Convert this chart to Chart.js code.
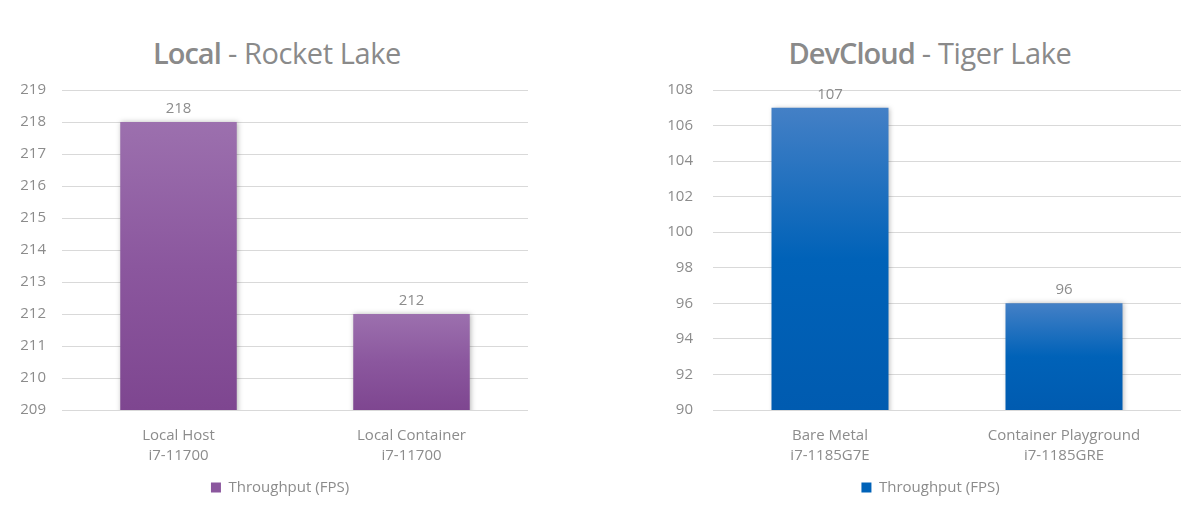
<!DOCTYPE html>
<html>
<head>
<meta charset="utf-8">
<script src="https://cdn.jsdelivr.net/npm/chart.js@4.4.0/dist/chart.umd.min.js"></script>
<style>
  html,body{margin:0;padding:0;background:#fff;}
  body{width:1188px;height:525px;position:relative;overflow:hidden;font-family:"Open Sans",sans-serif;}
  .wrap{position:absolute;top:0;height:525px;}
  .title{position:absolute;top:33px;font-size:29px;color:#8a8a8a;white-space:nowrap;transform:translateX(-50%);letter-spacing:-0.4px;}
  .title b{font-weight:600;letter-spacing:-1px;}
</style>
</head>
<body>
<div class="title" style="left:277px"><b>Local</b> - Rocket Lake</div>
<div class="title" style="left:930px"><b>DevCloud</b> - Tiger Lake</div>
<div class="wrap" style="left:0;width:560px"><canvas id="c1" width="560" height="525"></canvas></div>
<div class="wrap" style="left:620px;width:568px"><canvas id="c2" width="568" height="525"></canvas></div>
<script>
const seriesName = "Throughput (FPS)";
const localLabels = [["Local Host","i7-11700"],["Local Container","i7-11700"]];
const localValues = [218, 212];
const localTicks = {min:209, max:219, step:1};
const cloudLabels = [["Bare Metal","i7-1185G7E"],["Container Playground","i7-1185GRE"]];
const cloudValues = [107, 96];
const cloudTicks = {min:90, max:108, step:2};

const FONT = "'Open Sans', sans-serif";
const GRAY = "#8c8c8c";

const valueLabels = {
  id:'valueLabels',
  afterDatasetsDraw(chart){
    const ctx = chart.ctx;
    const meta = chart.getDatasetMeta(0);
    ctx.save();
    ctx.font = "15px " + FONT;
    ctx.fillStyle = GRAY;
    ctx.textAlign = 'center';
    ctx.textBaseline = 'bottom';
    meta.data.forEach((bar,i)=>{
      ctx.fillText(String(chart.data.datasets[0].data[i]), bar.x, bar.y - 6);
    });
    ctx.restore();
  }
};
const barShadow = {
  id:'barShadow',
  beforeDatasetDraw(chart){
    const ctx = chart.ctx;
    ctx.save();
    ctx.shadowColor = 'rgba(0,0,0,0.28)';
    ctx.shadowBlur = 5;
    ctx.shadowOffsetX = 1;
    ctx.shadowOffsetY = 0;
  },
  afterDatasetDraw(chart){ chart.ctx.restore(); }
};
const legendShift = {
  id:'legendShift',
  afterLayout(chart, args, opts){
    const lg = chart.legend;
    if(lg){ lg.left += opts.dx; lg.right += opts.dx; }
  }
};

function makeChart(id, labels, values, tk, colTop, colMid, colBot, padRight, axisW, tickPad, legendDx){
  const grad = (c)=>{
    const chart = c.chart;
    const area = chart.chartArea;
    if(!area || c.type !== 'data') return colMid;
    const y = chart.scales.y;
    const top = y.getPixelForValue(c.raw);
    const bot = y.getPixelForValue(tk.min);
    const g = chart.ctx.createLinearGradient(0, top, 0, bot);
    g.addColorStop(0, colTop);
    g.addColorStop(0.5, colMid);
    g.addColorStop(1, colBot);
    return g;
  };
  return new Chart(document.getElementById(id), {
    type:'bar',
    data:{labels:labels, datasets:[{label:seriesName, data:values, backgroundColor:grad,
      categoryPercentage:1, barPercentage:0.5}]},
    options:{
      responsive:false, animation:false,
      layout:{padding:{top:90,left:0,right:padRight,bottom:20}},
      plugins:{
        title:{display:false},
        tooltip:{enabled:false},
        legendShift:{dx:legendDx},
        legend:{position:'bottom', labels:{boxWidth:10, boxHeight:10, color:GRAY, padding:10,
          font:{family:FONT,size:15},
          generateLabels:(chart)=>[{text:seriesName, fillStyle:colMid, strokeStyle:colMid, lineWidth:0, fontColor:GRAY}]}}
      },
      scales:{
        x:{grid:{display:false}, border:{display:false},
          ticks:{color:GRAY, font:{family:FONT,size:15, lineHeight:1.3}, padding:8, maxRotation:0, autoSkip:false},
          afterFit:(s)=>{s.height = 60;}},
        y:{min:tk.min, max:tk.max, grid:{color:'#d9d9d9', drawTicks:false}, border:{display:false},
          ticks:{stepSize:tk.step, color:GRAY, font:{family:FONT,size:15}, padding:tickPad},
          afterFit:(s)=>{s.width = axisW;}}
      }
    },
    plugins:[barShadow, valueLabels, legendShift]
  });
}
makeChart('c1', localLabels, localValues, localTicks, '#9c70ae', '#8b579e', '#7e4690', 32, 62, 16, 16);
makeChart('c2', cloudLabels, cloudValues, cloudTicks, '#4480c6', '#0062b8', '#005bb0', 7, 93, 20, 30);
</script>
</body>
</html>
